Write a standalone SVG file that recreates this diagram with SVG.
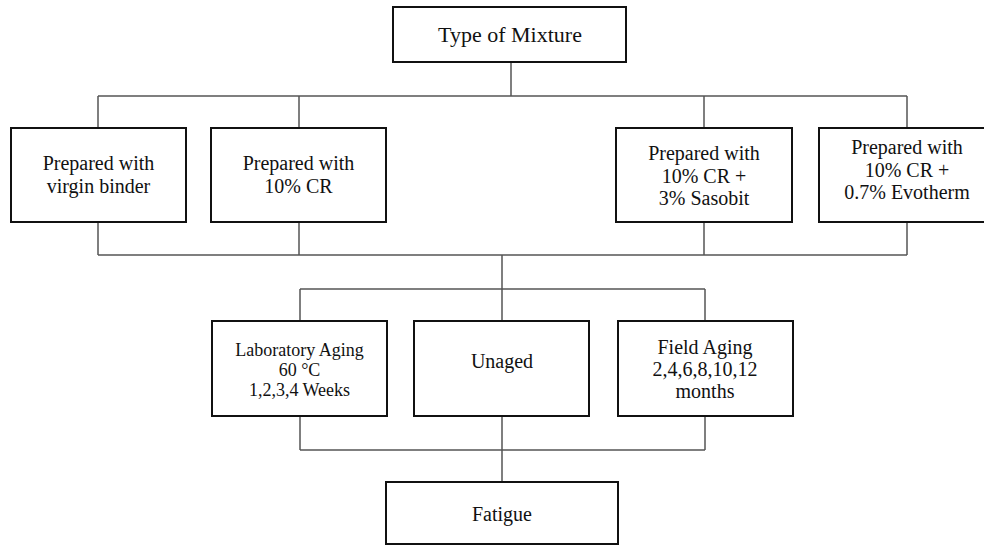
<svg xmlns="http://www.w3.org/2000/svg" width="984" height="545" viewBox="0 0 984 545">
<style>
.box{fill:#fff;stroke:#111;stroke-width:2}
.ln{fill:none;stroke:#555;stroke-width:1.5}
text{font-family:"Liberation Serif","Times New Roman",serif;fill:#111;text-anchor:middle;font-size:20px}
.t{font-size:22px}
.s{font-size:18px}
</style>
<rect width="984" height="545" fill="#fff"/>
<g id="connectors">
<path class="ln" d="M511 62V96M98 96H907M98 96V128M299 96V128M704 96V128M907 96V128"/>
<path class="ln" d="M98 222V255M299 222V255M704 222V255M907 222V255M98 255H907M502 255V289"/>
<path class="ln" d="M300 289H705M300 289V321M502 289V321M705 289V321"/>
<path class="ln" d="M300 416V450M502 416V450M705 416V450M300 450H705M502 450V482"/>
</g>
<g id="type-of-mixture">
<rect class="box" x="393" y="7" width="233" height="55"/>
<text class="t" x="510" y="42">Type of Mixture</text>
</g>
<g id="virgin">
<rect class="box" x="11" y="128" width="175" height="94"/>
<text x="98.5" y="170">Prepared with</text>
<text x="98.5" y="193">virgin binder</text>
</g>
<g id="cr10">
<rect class="box" x="211" y="128" width="175" height="94"/>
<text x="298.5" y="170">Prepared with</text>
<text x="298.5" y="193">10% CR</text>
</g>
<g id="sasobit">
<rect class="box" x="616" y="128" width="176" height="94"/>
<text x="704" y="160">Prepared with</text>
<text x="704" y="183">10% CR +</text>
<text x="704" y="205">3% Sasobit</text>
</g>
<g id="evotherm">
<rect class="box" x="819" y="128" width="176" height="94"/>
<text x="907" y="154">Prepared with</text>
<text x="907" y="177">10% CR +</text>
<text x="907" y="199">0.7% Evotherm</text>
</g>
<g id="lab-aging">
<rect class="box" x="212" y="321" width="175" height="95"/>
<text class="s" x="299.5" y="356">Laboratory Aging</text>
<text class="s" x="299.5" y="376">60 °C</text>
<text class="s" x="299.5" y="396">1,2,3,4 Weeks</text>
</g>
<g id="unaged">
<rect class="box" x="414" y="321" width="175" height="95"/>
<text x="502" y="368">Unaged</text>
</g>
<g id="field-aging">
<rect class="box" x="618" y="321" width="175" height="95"/>
<text x="705" y="354">Field Aging</text>
<text x="705" y="376">2,4,6,8,10,12</text>
<text x="705" y="398">months</text>
</g>
<g id="fatigue">
<rect class="box" x="386" y="482" width="232" height="62"/>
<text x="502" y="521">Fatigue</text>
</g>
</svg>
